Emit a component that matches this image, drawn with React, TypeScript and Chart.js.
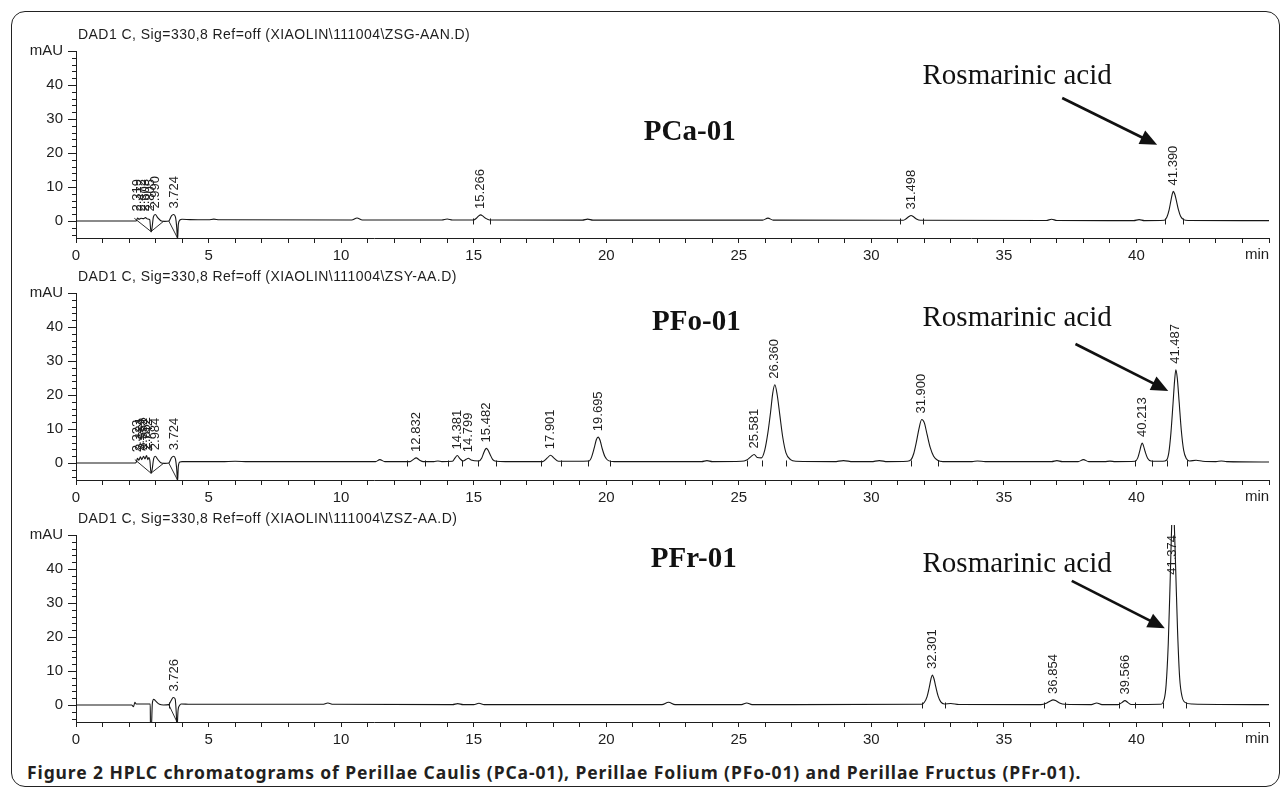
import React, { useEffect, useRef } from 'react';
import { Chart, registerables } from 'chart.js';

Chart.register(...registerables);

// ---------- axis ticks ----------
const yMajorTicks = [0, 10, 20, 30, 40, 50];
const yMinorTicks = [-4, -2, 2, 4, 6, 8, 12, 14, 16, 18, 22, 24, 26, 28, 32, 34, 36, 38, 42, 44, 46, 48];
const xTickLabels = [0, 5, 10, 15, 20, 25, 30, 35, 40];
const xMinorMinutes = [0, 1, 2, 3, 4, 5, 6, 7, 8, 9, 10, 11, 12, 13, 14, 15, 16, 17, 18, 19, 20, 21, 22, 23, 24, 25, 26, 27, 28, 29, 30, 31, 32, 33, 34, 35, 36, 37, 38, 39, 40, 41, 42, 43, 44, 45];

// ---------- PCa-01 (Perillae Caulis) ----------
const pcaTimes = [0, 2.2, 2.28, 2.32, 2.38, 2.45, 2.55, 2.62, 2.7, 2.78, 2.83, 2.86, 2.92, 2.99, 3.08, 3.2, 3.35, 3.5, 3.6, 3.68, 3.75, 3.8, 3.83, 3.86, 3.92, 4.0, 4.3, 5.0, 5.2, 5.4, 10.4, 10.6, 10.8, 13.8, 14.0, 14.2, 15.0, 15.1, 15.19, 15.266, 15.34, 15.45, 15.6, 19.1, 19.3, 19.5, 25.9, 26.1, 26.3, 31.2, 31.3, 31.42, 31.498, 31.58, 31.7, 31.85, 36.6, 36.8, 37.0, 39.9, 40.1, 40.3, 41.05, 41.15, 41.23, 41.3, 41.35, 41.39, 41.44, 41.5, 41.58, 41.67, 41.78, 41.95, 45];
const pcaSignal = [0, 0, 0.1, 0.9, 0.5, 0.8, 0.7, 1.0, 0.6, 0.4, -3.2, -2.5, 1.2, 1.9, 1.0, 0.1, -0.1, 0.0, 1.5, 1.9, 1.2, -2.0, -5.5, -1.0, 0.3, 0.5, 0.4, 0.35, 0.55, 0.35, 0.3, 0.9, 0.3, 0.3, 0.6, 0.3, 0.3, 0.8, 1.5, 1.8, 1.5, 0.8, 0.3, 0.25, 0.55, 0.25, 0.25, 0.85, 0.25, 0.2, 0.6, 1.3, 1.6, 1.3, 0.6, 0.2, 0.15, 0.5, 0.15, 0.1, 0.4, 0.1, 0.2, 1.2, 3.2, 6.0, 7.9, 8.7, 8.0, 6.2, 3.4, 1.3, 0.4, 0.15, 0.1];
const pcaPeakTimes = [2.319, 2.472, 2.603, 2.805, 2.99, 3.724, 15.266, 31.498, 41.39];
const pcaPeakApex = [1.0, 1.0, 1.0, 1.0, 1.9, 1.9, 1.8, 1.6, 8.7];
const pcaMarks = [14.97, 15.6, 31.07, 31.95, 41.07, 41.76];
const pcaBaseTimes = [2.2, 2.83, 3.3, null, 3.5, 3.83];
const pcaBaseSignal = [0.8, -3.1, -0.1, null, 0.0, -5.0];

// ---------- PFo-01 (Perillae Folium) ----------
const pfoTimes = [0, 2.2, 2.27, 2.32, 2.37, 2.43, 2.48, 2.55, 2.6, 2.66, 2.71, 2.75, 2.79, 2.83, 2.87, 2.93, 2.99, 3.08, 3.2, 3.35, 3.5, 3.6, 3.68, 3.75, 3.8, 3.83, 3.86, 3.92, 4.0, 5.5, 6.0, 6.5, 11.3, 11.46, 11.65, 12.6, 12.72, 12.83, 12.95, 13.1, 13.5, 13.65, 13.8, 14.2, 14.3, 14.38, 14.48, 14.6, 14.72, 14.8, 14.9, 15.2, 15.3, 15.38, 15.44, 15.482, 15.54, 15.62, 15.72, 15.85, 16.2, 17.6, 17.78, 17.9, 18.02, 18.2, 19.35, 19.45, 19.55, 19.63, 19.695, 19.77, 19.85, 19.95, 20.08, 20.3, 23.6, 23.8, 24.0, 25.1, 25.3, 25.45, 25.58, 25.7, 25.85, 25.98, 26.1, 26.2, 26.28, 26.36, 26.45, 26.55, 26.66, 26.78, 26.95, 27.15, 28.6, 28.95, 29.3, 30.0, 30.3, 30.6, 31.35, 31.5, 31.6, 31.7, 31.8, 31.9, 32.0, 32.1, 32.22, 32.35, 32.5, 32.7, 33.8, 34.0, 34.3, 36.8, 37.0, 37.2, 37.8, 38.0, 38.2, 38.8, 39.0, 39.2, 39.95, 40.05, 40.12, 40.17, 40.213, 40.26, 40.33, 40.42, 40.55, 41.0, 41.13, 41.22, 41.3, 41.38, 41.44, 41.487, 41.54, 41.61, 41.69, 41.78, 41.88, 42.0, 42.25, 42.5, 43.0, 43.2, 43.4, 45];
const pfoSignal = [0, 0, 0.2, 1.4, 0.8, 1.8, 1.0, 2.0, 1.2, 2.2, 1.0, 1.6, 0.5, -3.0, -2.0, 1.3, 2.0, 1.1, 0.1, -0.1, 0.0, 1.5, 2.0, 1.2, -2.0, -5.5, -1.0, 0.3, 0.4, 0.4, 0.5, 0.4, 0.4, 1.0, 0.4, 0.4, 1.0, 1.5, 0.9, 0.4, 0.4, 0.6, 0.4, 0.5, 1.5, 2.2, 1.3, 0.6, 1.1, 1.4, 0.9, 0.6, 1.4, 3.0, 4.0, 4.3, 3.8, 2.5, 1.0, 0.5, 0.4, 0.4, 1.5, 2.3, 1.5, 0.5, 0.6, 1.8, 4.5, 6.9, 7.6, 6.6, 4.2, 1.9, 0.7, 0.4, 0.4, 0.7, 0.4, 0.5, 0.9, 1.8, 2.5, 1.6, 1.5, 3.8, 9.0, 15.0, 20.5, 23.0, 20.0, 14.0, 7.5, 3.0, 1.0, 0.5, 0.4, 0.7, 0.4, 0.4, 0.7, 0.4, 0.5, 1.0, 2.8, 6.2, 10.2, 12.8, 11.8, 8.5, 4.6, 2.0, 0.8, 0.4, 0.4, 0.6, 0.4, 0.4, 0.7, 0.4, 0.4, 1.0, 0.4, 0.4, 0.55, 0.4, 0.5, 1.5, 3.4, 5.0, 5.9, 5.2, 3.3, 1.4, 0.6, 0.5, 0.8, 3.0, 8.8, 17.5, 24.3, 27.4, 25.0, 18.0, 9.8, 3.8, 1.3, 0.6, 0.8, 0.5, 0.4, 0.6, 0.4, 0.3];
const pfoPeakTimes = [2.323, 2.434, 2.552, 2.652, 2.742, 2.984, 3.724, 12.832, 14.381, 14.799, 15.482, 17.901, 19.695, 25.581, 26.36, 31.9, 40.213, 41.487];
const pfoPeakApex = [1.4, 1.8, 2.0, 2.2, 1.6, 2.0, 2.0, 1.5, 2.2, 1.4, 4.3, 2.3, 7.6, 2.5, 23.0, 12.8, 5.9, 27.4];
const pfoMarks = [12.5, 13.15, 14.05, 14.55, 15.15, 15.85, 17.55, 18.28, 19.3, 20.13, 25.3, 25.87, 26.8, 31.5, 32.5, 39.95, 40.57, 41.14, 41.9];
const pfoBaseTimes = [2.22, 2.83, 3.3, null, 3.5, 3.83];
const pfoBaseSignal = [1.0, -3.0, -0.1, null, 0.0, -5.0];

// ---------- PFr-01 (Perillae Fructus) ----------
const pfrTimes = [0, 2.1, 2.17, 2.22, 2.27, 2.8, 2.81, 2.84, 2.88, 2.93, 3.0, 3.15, 3.3, 3.5, 3.58, 3.67, 3.74, 3.78, 3.81, 3.85, 3.9, 3.97, 4.3, 9.3, 9.5, 9.7, 14.2, 14.4, 14.6, 15.0, 15.2, 15.4, 22.1, 22.35, 22.6, 25.1, 25.3, 25.5, 31.9, 32.0, 32.1, 32.18, 32.25, 32.301, 32.36, 32.43, 32.52, 32.62, 32.75, 33.0, 33.3, 36.4, 36.6, 36.75, 36.854, 36.95, 37.1, 37.3, 38.3, 38.5, 38.7, 39.3, 39.45, 39.566, 39.68, 39.8, 40.9, 41.05, 41.12, 41.2, 41.27, 41.33, 41.374, 41.42, 41.48, 41.55, 41.63, 41.72, 41.85, 42.1, 45];
const pfrSignal = [0, 0, -0.5, 0.8, 0.3, 0.3, -7.0, -7.0, 0.5, 1.7, 1.2, 0.2, 0.0, 0.1, 1.2, 2.2, 1.8, -2.0, -7.0, -1.5, -0.2, 0.3, 0.2, 0.2, 0.6, 0.2, 0.1, 0.4, 0.1, 0.1, 0.5, 0.1, 0.1, 0.8, 0.1, 0.1, 0.6, 0.1, 0.2, 0.8, 2.4, 5.0, 7.7, 8.8, 7.8, 5.4, 2.6, 0.9, 0.3, 0.45, 0.15, 0.1, 0.5, 1.2, 1.5, 1.3, 0.6, 0.2, 0.1, 0.6, 0.1, 0.1, 0.7, 1.3, 0.7, 0.15, 0.2, 1.8, 6.0, 18.0, 36.0, 53.0, 60.0, 55.0, 40.0, 22.0, 8.0, 2.5, 0.7, 0.3, 0.1];
const pfrPeakTimes = [3.726, 32.301, 36.854, 39.566, 41.374];
const pfrPeakApex = [2.2, 8.8, 1.5, 1.3, 60.0];
const pfrMarks = [3.5, 31.9, 32.77, 36.5, 37.32, 39.35, 39.95, 41.0, 41.87];
const pfrBaseTimes = [3.5, 3.81];
const pfrBaseSignal = [0.1, -5.0];

// ---------- panel descriptions ----------
const panels = [
  {
    title: 'DAD1 C, Sig=330,8 Ref=off (XIAOLIN\\111004\\ZSG-AAN.D)',
    name: 'PCa-01', times: pcaTimes, signal: pcaSignal, peakTimes: pcaPeakTimes, peakApex: pcaPeakApex, marks: pcaMarks,
    baseTimes: pcaBaseTimes, baseSignal: pcaBaseSignal,
    namePos: [23.15, 25.9], acidPos: [35.5, 42.4], arrow: [37.2, 36.2, 40.78, 22.4],
  },
  {
    title: 'DAD1 C, Sig=330,8 Ref=off (XIAOLIN\\111004\\ZSY-AA.D)',
    name: 'PFo-01', times: pfoTimes, signal: pfoSignal, peakTimes: pfoPeakTimes, peakApex: pfoPeakApex, marks: pfoMarks,
    baseTimes: pfoBaseTimes, baseSignal: pfoBaseSignal,
    namePos: [23.4, 41.2], acidPos: [35.5, 42.6], arrow: [37.7, 35.0, 41.2, 21.2],
  },
  {
    title: 'DAD1 C, Sig=330,8 Ref=off (XIAOLIN\\111004\\ZSZ-AA.D)',
    name: 'PFr-01', times: pfrTimes, signal: pfrSignal, peakTimes: pfrPeakTimes, peakApex: pfrPeakApex, marks: pfrMarks,
    baseTimes: pfrBaseTimes, baseSignal: pfrBaseSignal,
    namePos: [23.3, 42.9], acidPos: [35.5, 41.5], arrow: [37.56, 36.5, 41.07, 22.6],
  },
];

const SANS = '"Liberation Sans", Arial, Helvetica, sans-serif';
const SERIF = '"Liberation Serif", "Times New Roman", serif';
const INK = '#1e1e1e';

const CANVAS_W = 1286;
const CANVAS_H = 270;
const PANEL_STEP = 242;

function makePlugin(p: any) {
  return {
    id: 'hplcAnnotations',
    afterDatasetsDraw(chart: any) {
      const { ctx, chartArea } = chart;
      const xs = chart.scales.x;
      const ys = chart.scales.y;
      ctx.save();
      ctx.strokeStyle = INK;
      ctx.fillStyle = INK;
      ctx.lineWidth = 1;

      // minor y ticks
      for (const v of yMinorTicks) {
        const py = Math.round(ys.getPixelForValue(v)) + 0.5;
        ctx.beginPath();
        ctx.moveTo(chartArea.left - 4, py);
        ctx.lineTo(chartArea.left, py);
        ctx.stroke();
      }

      // integration marks
      for (const t of p.marks) {
        const px = Math.round(xs.getPixelForValue(t)) + 0.5;
        const py = ys.getPixelForValue(0.3);
        ctx.beginPath();
        ctx.moveTo(px, py - 1.5);
        ctx.lineTo(px, py + 4.5);
        ctx.stroke();
      }

      // peak labels (rotated)
      ctx.font = `13px ${SANS}`;
      ctx.textAlign = 'left';
      ctx.textBaseline = 'middle';
      p.peakTimes.forEach((t: number, i: number) => {
        const label = t.toFixed(3);
        const w = ctx.measureText(label).width;
        const px = xs.getPixelForValue(t);
        let pyBottom = ys.getPixelForValue(p.peakApex[i]) - 6;
        if (pyBottom - w < chartArea.top) pyBottom = chartArea.top + w;
        ctx.save();
        ctx.translate(px, pyBottom);
        ctx.rotate(-Math.PI / 2);
        ctx.fillText(label, 0, 0);
        ctx.restore();
      });

      // sample name
      ctx.textAlign = 'center';
      ctx.textBaseline = 'middle';
      ctx.font = `bold 29px ${SERIF}`;
      ctx.fillStyle = '#111';
      ctx.fillText(p.name, xs.getPixelForValue(p.namePos[0]), ys.getPixelForValue(p.namePos[1]));

      // compound name
      ctx.font = `29px ${SERIF}`;
      ctx.fillText('Rosmarinic acid', xs.getPixelForValue(p.acidPos[0]), ys.getPixelForValue(p.acidPos[1]));

      // arrow
      const x1 = xs.getPixelForValue(p.arrow[0]);
      const y1 = ys.getPixelForValue(p.arrow[1]);
      const x2 = xs.getPixelForValue(p.arrow[2]);
      const y2 = ys.getPixelForValue(p.arrow[3]);
      const ang = Math.atan2(y2 - y1, x2 - x1);
      const headLen = 17;
      const headHalf = 7.5;
      const bx = x2 - headLen * Math.cos(ang);
      const by = y2 - headLen * Math.sin(ang);
      ctx.strokeStyle = '#111';
      ctx.lineWidth = 2.7;
      ctx.beginPath();
      ctx.moveTo(x1, y1);
      ctx.lineTo(bx + 2 * Math.cos(ang), by + 2 * Math.sin(ang));
      ctx.stroke();
      ctx.beginPath();
      ctx.moveTo(x2, y2);
      ctx.lineTo(bx - headHalf * Math.sin(ang), by + headHalf * Math.cos(ang));
      ctx.lineTo(bx + headHalf * Math.sin(ang), by - headHalf * Math.cos(ang));
      ctx.closePath();
      ctx.fill();
      ctx.restore();
    },
    afterDraw(chart: any) {
      const { ctx, chartArea } = chart;
      const xs = chart.scales.x;
      ctx.save();
      ctx.fillStyle = INK;
      // header line
      ctx.font = `14px ${SANS}`;
      try { (ctx as any).letterSpacing = '0.45px'; } catch (e) { /* ignore */ }
      ctx.textAlign = 'left';
      ctx.textBaseline = 'middle';
      ctx.fillText(p.title, 78, 35);
      try { (ctx as any).letterSpacing = '0px'; } catch (e) { /* ignore */ }
      // unit of x axis
      ctx.font = `15px ${SANS}`;
      ctx.textAlign = 'center';
      ctx.textBaseline = 'top';
      ctx.fillText('min', xs.getPixelForValue(44.55), chartArea.bottom + 9);
      ctx.restore();
    },
  };
}

function Panel({ p, top }: { p: any; top: number }) {
  const ref = useRef<HTMLCanvasElement | null>(null);
  useEffect(() => {
    const canvas = ref.current;
    if (!canvas) return;
    const data = p.times.map((t: number, i: number) => ({ x: t, y: p.signal[i] }));
    const base = p.baseTimes.map((t: number | null, i: number) => ({ x: t === null ? NaN : t, y: p.baseSignal[i] }));
    const chart = new Chart(canvas, {
      type: 'line',
      data: {
        datasets: [
          {
            data,
            borderColor: '#161616',
            borderWidth: 1.1,
            pointRadius: 0,
            fill: false,
            cubicInterpolationMode: 'monotone',
            clip: { left: 0, top: 10, right: 0, bottom: 0 } as any,
          },
          {
            data: base,
            borderColor: '#161616',
            borderWidth: 0.9,
            pointRadius: 0,
            fill: false,
            tension: 0,
            spanGaps: false,
            clip: 0 as any,
          },
        ],
      },
      options: {
        responsive: false,
        animation: false,
        devicePixelRatio: 1,
        layout: { padding: { top: 51, right: 17, left: 0, bottom: 0 } },
        plugins: { legend: { display: false }, tooltip: { enabled: false }, title: { display: false } },
        scales: {
          x: {
            type: 'linear',
            min: 0,
            max: 45,
            afterBuildTicks: (s: any) => {
              s.ticks = xMinorMinutes.map((v) => ({ value: v }));
            },
            afterFit: (s: any) => {
              s.height = CANVAS_H - 51 - 187;
            },
            ticks: {
              autoSkip: false,
              maxRotation: 0,
              padding: 4,
              color: INK,
              font: { family: SANS, size: 15 },
              callback: (v: any) => (xTickLabels.includes(Number(v)) ? String(v) : ''),
            },
            grid: { drawOnChartArea: false, drawTicks: true, tickLength: 5, color: INK },
            border: { display: true, color: INK, width: 1 },
          },
          y: {
            type: 'linear',
            min: -5,
            max: 50,
            afterBuildTicks: (s: any) => {
              s.ticks = yMajorTicks.map((v) => ({ value: v }));
            },
            afterFit: (s: any) => {
              s.width = 76;
            },
            ticks: {
              autoSkip: false,
              padding: 5,
              color: INK,
              font: { family: SANS, size: 15 },
              callback: (v: any) => (Number(v) === 50 ? 'mAU' : String(v)),
            },
            grid: { drawOnChartArea: false, drawTicks: true, tickLength: 8, color: INK },
            border: { display: true, color: INK, width: 1 },
          },
        },
      },
      plugins: [makePlugin(p)],
    } as any);
    return () => chart.destroy();
  }, [p]);
  return (
    <canvas
      ref={ref}
      width={CANVAS_W}
      height={CANVAS_H}
      style={{ position: 'absolute', left: 0, top, width: CANVAS_W, height: CANVAS_H }}
    />
  );
}

export default function App() {
  return (
    <div style={{ position: 'absolute', left: 0, top: 0, width: 1286, height: 790, background: '#fff', overflow: 'hidden' }}>
      <div
        style={{
          position: 'absolute',
          left: 11,
          top: 11,
          width: 1269,
          height: 776,
          boxSizing: 'border-box',
          border: '1.6px solid #222',
          borderRadius: 14,
        }}
      />
      {panels.map((p, i) => (
        <Panel key={p.name} p={p} top={i * PANEL_STEP} />
      ))}
      <div
        style={{
          position: 'absolute',
          left: 27,
          top: 761,
          whiteSpace: 'nowrap',
          font: `bold 17.5px "Noto Sans", "Open Sans", sans-serif`,
          letterSpacing: '0.9px',
          color: '#231f20',
          lineHeight: '22px',
        }}
      >
        Figure 2 HPLC chromatograms of Perillae Caulis (PCa-01), Perillae Folium (PFo-01) and Perillae Fructus (PFr-01).
      </div>
    </div>
  );
}
